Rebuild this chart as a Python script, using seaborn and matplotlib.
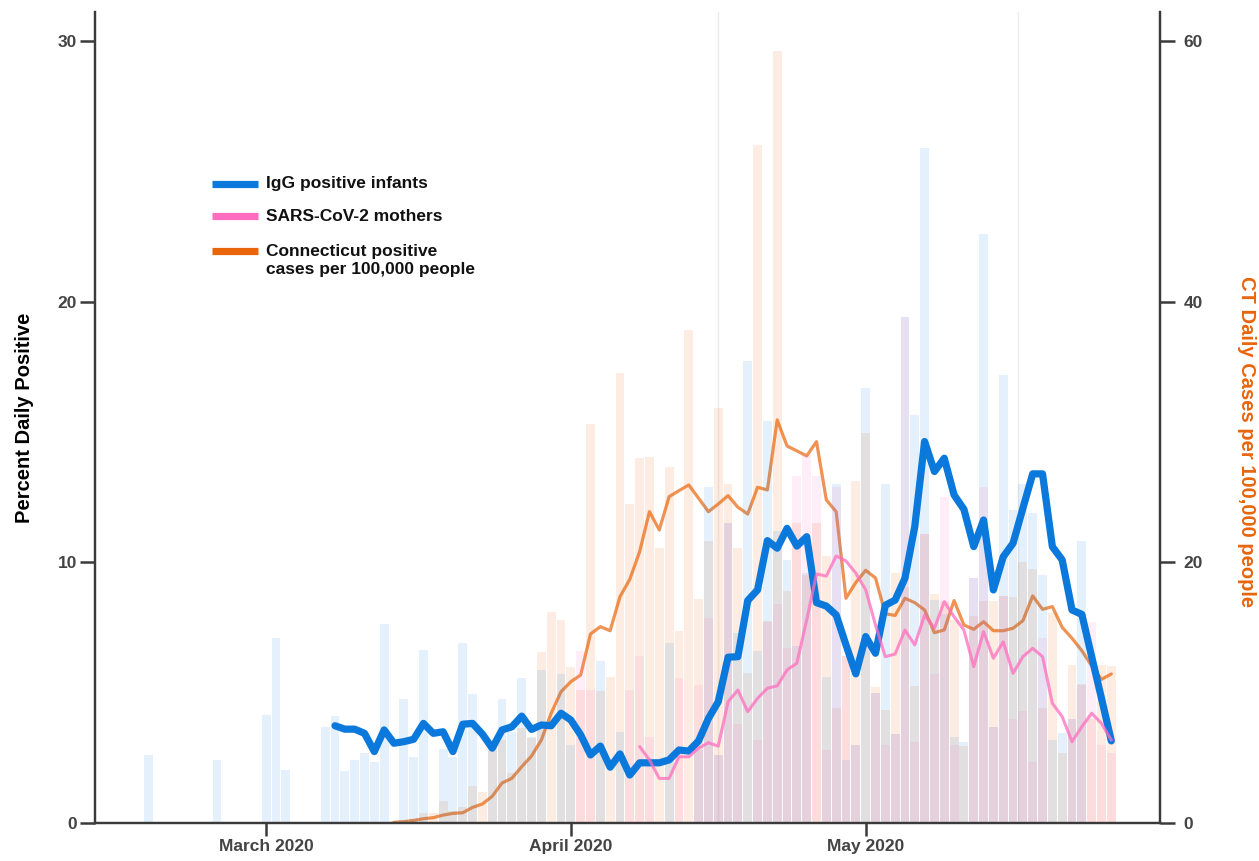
import numpy as np
import pandas as pd
import matplotlib
matplotlib.use("Agg")
import matplotlib.pyplot as plt
import seaborn as sns

sns.set_theme(style="white")
plt.rcParams['font.family'] = ['Liberation Sans', 'DejaVu Sans']

# ---- daily bars ----
# IgG positive infants, percent (left axis), from Feb 18 2020
infant_bar_start = "2020-02-18"
infant_bar_feb = [2.6, 0, 0, 0, 0, 0, 0, 2.4, 0, 0, 0, 0]
infant_bar_mar = [4.15, 7.1, 2.05, 0, 0, 0, 3.7, 4.1, 2.0, 2.4, 2.7, 2.35, 7.65, 0, 4.75, 2.55,
                  6.65, 0, 2.85, 2.55, 6.9, 4.95, 0, 3.0, 4.75, 3.5, 5.55, 3.3, 5.85, 0, 5.7]
infant_bar_apr = [3.0, 0, 0, 6.2, 0, 3.5, 0, 0, 0, 0, 6.9, 0, 0, 2.8, 12.9, 2.6, 11.5, 7.3, 17.7,
                  6.6, 15.4, 11.2, 10.1, 6.8, 9.6, 0, 5.6, 13.0, 2.4, 3.0]
infant_bar_may = [16.7, 5.0, 13.0, 3.4, 19.4, 15.65, 25.9, 8.55, 8.0, 3.3, 3.1, 9.4, 22.6, 3.7,
                  17.2, 12.0, 13.0, 11.9, 9.5, 3.2, 3.45, 4.0, 10.8, 0, 0, 0]

# SARS-CoV-2 mothers, percent (left axis), from Apr 1 2020
mother_bar_start = "2020-04-01"
mother_bar_apr = [0, 6.6, 5.1, 0, 0, 0, 5.1, 6.4, 3.3, 0, 0, 5.55, 0, 5.3, 7.85, 2.6, 11.5, 3.8,
                  0, 3.2, 7.7, 8.4, 6.7, 13.3, 14.1, 13.3, 2.8, 12.9, 6.4, 3.0]
mother_bar_may = [0, 5.0, 3.0, 3.4, 19.4, 3.1, 11.1, 5.7, 12.5, 3.0, 0, 9.4, 12.9, 3.7, 8.7, 4.0,
                  4.3, 2.35, 7.1, 0, 0, 4.0, 5.3, 7.7, 3.0, 2.7]

# CT daily cases per 100,000 (right axis), from Mar 13 2020
ct_bar_start = "2020-03-13"
ct_bar_mar = [0.1, 0.15, 0.2, 0.3, 0.74, 0.8, 1.7, 0.94, 1.2, 2.86, 2.4, 6.0, 6.4, 3.8, 7.3, 6.5,
              13.1, 16.2, 15.6]
ct_bar_apr = [12.0, 10.2, 30.6, 10.1, 11.2, 34.5, 24.5, 28.0, 28.1, 21.1, 27.3, 14.7, 37.8, 17.2,
              21.6, 31.8, 26.0, 21.1, 11.5, 52.0, 15.5, 59.2, 17.8, 23.0, 19.0, 23.0, 20.5, 8.8,
              12.8, 26.2]
ct_bar_may = [29.9, 10.4, 8.7, 19.2, 18.1, 10.5, 22.2, 17.6, 17.0, 15.6, 5.9, 15.9, 17.0, 17.0,
              17.4, 17.3, 20.0, 19.5, 8.8, 16.1, 5.35, 12.1, 10.7, 8.0, 12.1, 12.05]

# ---- smoothed lines ----
infant_line_start = "2020-03-08"
infant_line = [3.73, 3.6, 3.6, 3.44, 2.74, 3.57, 3.06, 3.12, 3.21, 3.82, 3.44, 3.5, 2.74, 3.79,
               3.82, 3.41, 2.87, 3.57, 3.69, 4.1, 3.59, 3.76, 3.73, 4.21,
               3.95, 3.38, 2.61, 2.95, 2.14, 2.65, 1.84, 2.31, 2.31, 2.31, 2.42, 2.8, 2.76, 3.15,
               4.01, 4.65, 6.36, 6.38, 8.53, 8.94, 10.83, 10.54, 11.3, 10.62, 10.98, 8.45, 8.32,
               7.98, 6.83, 5.72,
               7.15, 6.51, 8.35, 8.55, 9.39, 11.37, 14.63, 13.48, 13.99, 12.58, 12.03, 10.6, 11.62,
               8.94, 10.21, 10.73, 12.07, 13.39, 13.39, 10.6, 10.09, 8.17, 8.0, 6.38, 4.78, 3.15]

mother_line_start = "2020-04-08"
mother_line = [2.93, 2.42, 1.71, 1.71, 2.54, 2.54, 2.87, 3.08, 2.95, 4.65, 5.1, 4.27, 4.78, 5.17,
               5.26, 5.87, 6.13, 7.79, 9.55, 9.47, 10.24, 10.05, 9.58,
               8.95, 7.6, 6.38, 6.48, 7.4, 6.83, 7.98, 7.47, 8.49, 7.91, 7.4, 6.0, 7.34, 6.32,
               6.95, 5.74, 6.38, 6.7, 6.38, 4.59, 4.08, 3.12, 3.69, 4.21, 3.82, 3.18]

ct_line_start = "2020-03-14"
ct_line = [0.05, 0.1, 0.2, 0.33, 0.41, 0.61, 0.74, 0.79, 1.2, 1.46, 2.05, 3.07, 3.43, 4.32, 5.14,
           6.37, 8.42, 10.07,
           10.84, 11.35, 14.5, 15.06, 14.75, 17.36, 18.69, 20.81, 23.88, 22.48, 25.03, 25.49,
           25.93, 24.91, 23.88, 24.47, 25.11, 24.22, 23.7, 25.75, 25.55, 30.92, 28.92, 28.54,
           28.16, 29.25, 24.78, 23.88, 17.24, 18.45,
           19.38, 18.8, 16.05, 15.92, 17.24, 16.9, 16.34, 14.6, 14.81, 17.06, 15.19, 14.86,
           15.44, 14.75, 14.75, 14.94, 15.52, 17.42, 16.39, 16.6, 15.01, 14.17, 13.22, 12.05,
           11.02, 11.43]

month_ticks = ["2020-03-01", "2020-04-01", "2020-05-01"]
month_labels = ["March 2020", "April 2020", "May 2020"]

blue = "#0B78DC"
pink = "#FF6EBE"
orange = "#E8650A"
dark = "#3a3a3a"


def days(start, n):
    return pd.date_range(start, periods=n, freq="D")


infant_bars = infant_bar_feb + infant_bar_mar + infant_bar_apr + infant_bar_may
mother_bars = mother_bar_apr + mother_bar_may
ct_bars = ct_bar_mar + ct_bar_apr + ct_bar_may

fig = plt.figure(figsize=(12.59, 8.61), dpi=100)
ax = fig.add_axes([0.0755, 0.0441, 0.8459, 0.9419])
ax2 = ax.twinx()
ax.set_zorder(2)
ax2.set_zorder(1)
ax.patch.set_visible(False)

# faint mid-month grid lines
for d in ["2020-04-16", "2020-05-16 12:00"]:
    ax2.axvline(pd.Timestamp(d), color="#ececec", lw=1, zorder=0)

# bars
ax2.bar(days(ct_bar_start, len(ct_bars)), ct_bars, width=0.9, color=orange, alpha=0.12, lw=0)
ax.bar(days(infant_bar_start, len(infant_bars)), infant_bars, width=0.9, color=blue,
       alpha=0.11, lw=0)
ax.bar(days(mother_bar_start, len(mother_bars)), mother_bars, width=0.9, color=pink,
       alpha=0.12, lw=0)

# lines
sns.lineplot(x=days(ct_line_start, len(ct_line)), y=ct_line, ax=ax2, color=orange, lw=2.3,
             alpha=0.7, legend=False)
sns.lineplot(x=days(infant_line_start, len(infant_line)), y=infant_line, ax=ax, color=blue,
             lw=5.2, legend=False)
sns.lineplot(x=days(mother_line_start, len(mother_line)), y=mother_line, ax=ax, color=pink,
             lw=2.2, alpha=0.75, legend=False)

ax.set_xlim(pd.Timestamp("2020-02-12 14:00"), pd.Timestamp("2020-05-30 23:00"))
ax.set_ylim(0, 31.1)
ax2.set_ylim(0, 62.2)
ax.set_yticks([0, 10, 20, 30])
ax2.set_yticks([0, 20, 40, 60])
ax.set_xticks([pd.Timestamp(t) for t in month_ticks])
ax.set_xticklabels(month_labels)
ax.set_xlabel("")
ax2.set_xlabel("")
ax2.xaxis.set_visible(False)

for a in (ax, ax2):
    for s in a.spines.values():
        s.set_color(dark)
        s.set_linewidth(1.6)
    a.spines["top"].set_visible(False)
    a.grid(False)

ax.tick_params(axis="y", length=11, width=1.8, color=dark, pad=2, left=True)
ax.tick_params(axis="x", length=9, width=1.8, color=dark, pad=2.5, bottom=True)
ax2.tick_params(axis="y", length=11, width=1.8, color=dark, pad=6, right=True)
for lab in ax.get_yticklabels() + ax.get_xticklabels() + ax2.get_yticklabels():
    lab.set_fontsize(12.5)
    lab.set_fontweight("bold")
    lab.set_color("#444444")

ax.set_ylabel("Percent Daily Positive", fontsize=14.5, fontweight="bold", color="black")
ax.yaxis.set_label_coords(-0.057, 0.5)
ax2.set_ylabel("CT Daily Cases per 100,000 people", fontsize=14.5, fontweight="bold",
               color=orange, rotation=270)
ax2.yaxis.set_label_coords(1.0905, 0.47)

# legend drawn by hand so the two-line entry keeps its handle on the first line
entries = [(blue, "IgG positive infants", 0.788, 0.788),
           (pink, "SARS-CoV-2 mothers", 0.7485, 0.7485),
           (orange, "Connecticut positive\ncases per 100,000 people", 0.7053, 0.6936)]
for col, txt, yh, yt in entries:
    ax.plot([0.1099, 0.1531], [yh, yh], transform=ax.transAxes, color=col, lw=5.2,
            solid_capstyle="butt", clip_on=False)
    ax.text(0.1606, yt, txt, transform=ax.transAxes, fontsize=12.5, fontweight="bold",
            color="#111111", va="center", ha="left", linespacing=1.25)

fig.savefig("out.png", dpi=100)
